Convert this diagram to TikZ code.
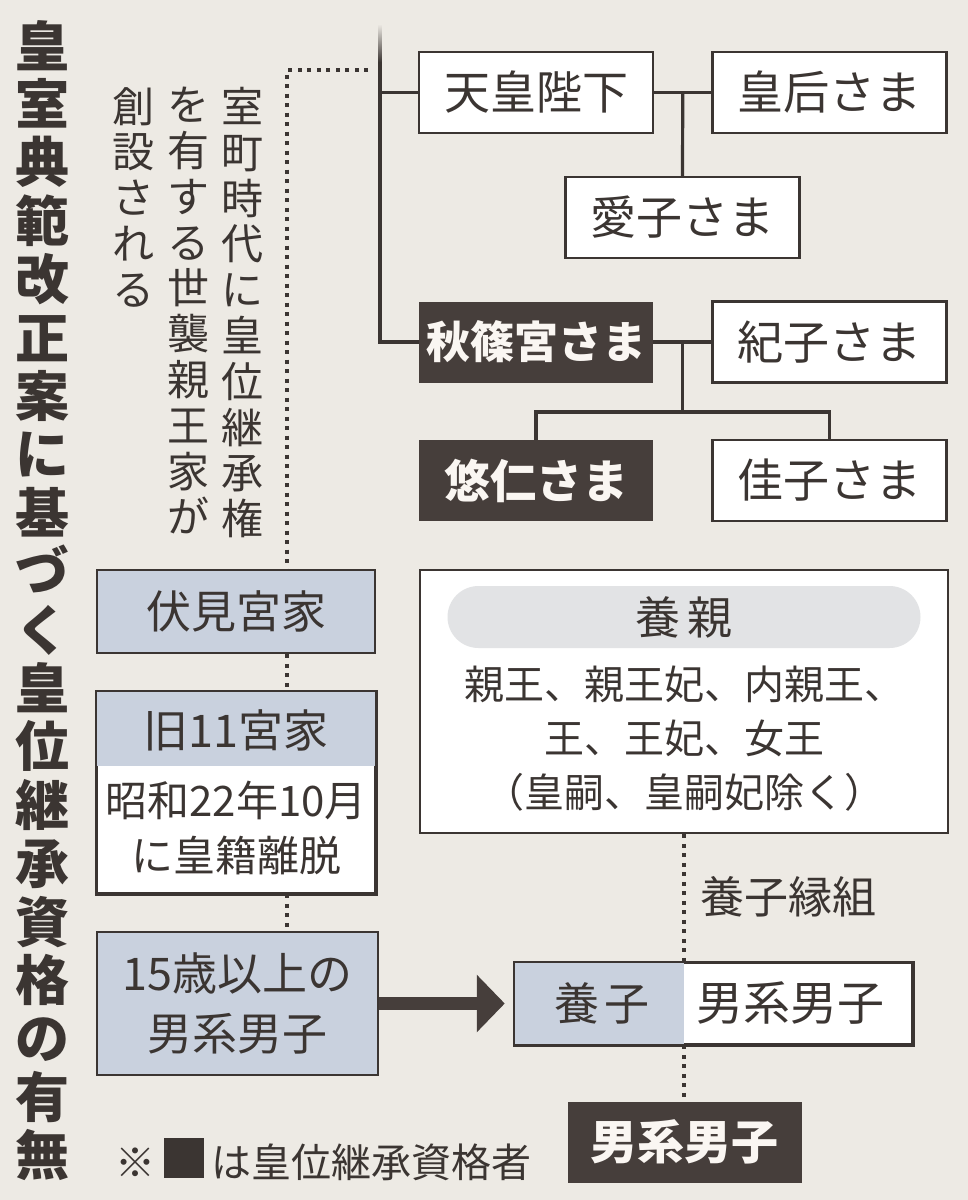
\documentclass[tikz,border=0pt]{standalone}
\usepackage{fontspec}
\newfontfamily\jp{Noto Sans CJK JP}
\usetikzlibrary{arrows.meta,calc}
\definecolor{bg}{HTML}{EDEAE4}
\definecolor{ink}{HTML}{3B3532}
\definecolor{darkbox}{HTML}{463E3B}
\definecolor{bluef}{HTML}{C9D1DE}
\definecolor{pillc}{HTML}{E2E3E5}
\definecolor{whitetext}{HTML}{FAF6F2}
\begin{document}
\begin{tikzpicture}[x=1pt,y=-1pt,
  wbox/.style={draw=ink, line width=2.5pt, fill=white, minimum width=234pt, minimum height=81pt, inner sep=0pt, text=ink, font=\jp\fontsize{46pt}{48pt}\selectfont},
  dbox/.style={fill=darkbox, minimum width=234pt, minimum height=81pt, inner sep=0pt, text=whitetext, font=\jp\bfseries\fontsize{46pt}{48pt}\selectfont},
  lbox/.style={draw=ink, line width=2.5pt, fill=bluef, minimum width=278pt, minimum height=83pt, inner sep=0pt, text=ink, align=center},
  conn/.style={draw=ink, line width=3.2pt},
  dotl/.style={draw=ink, line width=4pt, dash pattern=on 4pt off 5.5pt},
  vcol/.style={anchor=north, align=center, inner sep=0pt, text=ink},
  plain/.style={inner sep=0pt, text=ink}
]
\fill[bg] (0,0) rectangle (968,1200);
\useasboundingbox (0,0) rectangle (968,1200);

% title
\node[vcol, font=\jp\bfseries\fontsize{54pt}{58.4pt}\selectfont] (title) at (42,20)
  {皇\\室\\典\\範\\改\\正\\案\\に\\基\\づ\\く\\皇\\位\\継\\承\\資\\格\\の\\有\\無};

% subtitle columns
\node[vcol, font=\jp\fontsize{42pt}{45.8pt}\selectfont] (s1) at (242,87)
  {室\\町\\時\\代\\に\\皇\\位\\継\\承\\権};
\node[vcol, font=\jp\fontsize{42pt}{45.8pt}\selectfont] (s2) at (188,87)
  {を\\有\\す\\る\\世\\襲\\親\\王\\家\\が};
\node[vcol, font=\jp\fontsize{42pt}{45.8pt}\selectfont] (s3) at (133,87)
  {創\\設\\さ\\れ\\る};

% family tree
\node[wbox] (tenno) at (536,92.5) {天皇陛下};
\node[wbox] (kogo) at (829.5,92.5) {皇后さま};
\node[wbox] (aiko) at (682.5,217.5) {愛子さま};
\node[dbox, font=\jp\bfseries\fontsize{44pt}{48pt}\selectfont] (akishino) at (536,342) {秋篠宮さま};
\node[wbox] (kiko) at (829.5,342) {紀子さま};
\node[dbox] (hisahito) at (536,480.5) {悠仁さま};
\node[wbox] (kako) at (829.5,480.5) {佳子さま};

\shade[top color=bg, bottom color=ink] (378.4,24) rectangle (381.6,62);
\coordinate (mtop) at (380,62);
\draw[conn] (mtop) |- (akishino.west);
\draw[conn] (mtop |- tenno.west) -- (tenno.west);
\draw[conn] (tenno.east) -- (kogo.west);
\coordinate (c1) at ($(tenno.east)!0.5!(kogo.west)$);
\draw[conn] (c1) -- (aiko.north);
\draw[conn] (akishino.east) -- (kiko.west);
\coordinate (c2) at ($(akishino.east)!0.5!(kiko.west)$);
\coordinate (c3) at ($(c2)+(0,70)$);
\draw[conn] (c2) -- (c3);
\draw[conn] (hisahito.north) |- (c3) -| (kako.north);

% left column
\node[lbox, font=\jp\fontsize{45pt}{48pt}\selectfont] (fushimi) at (236,611.5) {伏見宮家};
\node[draw=ink, line width=2.5pt, fill=white, minimum width=278pt, minimum height=201pt, inner sep=0pt] (kyu) at (236,792.5) {};
\fill[bluef] (kyu.north west) rectangle ($(kyu.north east)+(0,75)$);
\draw[ink, line width=2.5pt] (kyu.north west) rectangle (kyu.south east);
\node[plain, font=\jp\fontsize{45pt}{48pt}\selectfont] (kyut) at (236,730) {旧11宮家};
\node[plain, align=center, font=\jp\fontsize{42pt}{55pt}\selectfont] (kyub) at (236,828) {昭和22年10月\\に皇籍離脱};
\node[lbox, minimum width=281pt, minimum height=143pt, font=\jp\fontsize{45pt}{60pt}\selectfont] (age15) at (237.5,1003.5) {15歳以上の\\男系男子};

\coordinate (dh) at (368,70);
\coordinate (dc) at (287,70);
\draw[dotl] (dh) -- (dc) -- (dc |- fushimi.north);
\draw[dotl] (fushimi.south -| dc) -- (kyu.north -| dc);
\draw[dotl] (kyu.south -| dc) -- (age15.north -| dc);

% adoptive parents
\node[draw=ink, line width=2.5pt, fill=white, minimum width=528pt, minimum height=263pt, inner sep=0pt] (yoshin) at (684,701.5) {};
\node[fill=pillc, rounded corners=31pt, minimum width=473pt, minimum height=62pt, inner sep=0pt, text=ink, font=\jp\fontsize{45pt}{48pt}\selectfont] (pill) at (684,617) {養\hspace{8pt}親};
\node[plain, align=center, font=\jp\fontsize{40pt}{54pt}\selectfont] (list) at (684,739)
  {親王、親王妃、内親王、\\王、王妃、女王\\（皇嗣、皇嗣妃除く）};
\node[plain, anchor=west, font=\jp\fontsize{44pt}{48pt}\selectfont] (engumi) at (700,897) {養子縁組};

% adopted child
\node[draw=ink, line width=2.5pt, fill=white, minimum width=397pt, minimum height=81pt, inner sep=0pt] (yoshi) at (713.5,1003.5) {};
\fill[bluef] (yoshi.north west) rectangle (yoshi.south -| yoshin.south);
\draw[ink, line width=2.5pt] (yoshi.north west) rectangle (yoshi.south east);
\node[plain, font=\jp\fontsize{45pt}{48pt}\selectfont] (yoshiL) at (602,1003.5) {養\hspace{6pt}子};
\node[plain, font=\jp\fontsize{47pt}{48pt}\selectfont] (yoshiR) at (790,1003.5) {男系男子};

\node[dbox, font=\jp\bfseries\fontsize{47pt}{48pt}\selectfont] (danshi) at (684.5,1142) {男系男子};

\draw[dotl] (yoshin.south) -- (yoshin.south |- yoshi.north);
\draw[dotl] (yoshin.south |- yoshi.south) -- (yoshin.south |- danshi.north);

\draw[line width=13pt, draw=darkbox, -{Triangle[length=28pt,width=56pt]}, shorten >=9pt] (age15.east) -- (yoshi.west);

% footnote
\node[plain, anchor=west, font=\jp\fontsize{40pt}{44pt}\selectfont] (note) at (115,1160) {※\hspace{4pt}{\fontsize{50pt}{50pt}\selectfont ■}\hspace{2pt}は皇位継承資格者};
\end{tikzpicture}
\end{document}
